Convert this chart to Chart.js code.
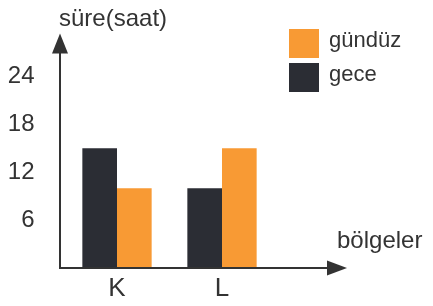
<!DOCTYPE html>
<html>
<head>
<meta charset="utf-8">
<script src="https://cdn.jsdelivr.net/npm/chart.js@4"></script>
<style>
  html, body { margin: 0; padding: 0; background: #fff; }
  #wrap { width: 433px; height: 306px; position: relative; }
</style>
</head>
<body>
<div id="wrap"><canvas id="chart"></canvas></div>
<script>
// Data
const regions = ["K", "L"];
const nightHours = [15, 10]; // gece
const dayHours = [10, 15]; // gündüz
const yTicks = [6, 12, 18, 24];
const yAxisTitle = "süre(saat)";
const xAxisTitle = "bölgeler";
const seriesNames = ["gece", "gündüz"];

const FONT = "'Liberation Sans', Arial, sans-serif";
const INK = "#333333";
const DARK = "#2b2d34";
const ORANGE = "#f89a34";

// Axis lines with arrow heads, the two axis titles and the legend box
const decorPlugin = {
  id: "decor",
  afterDatasetsDraw(chart) {
    const { ctx, chartArea, scales } = chart;
    const x0 = chartArea.left - 4.5;
    const y0 = scales.y.getPixelForValue(0);
    ctx.save();
    ctx.strokeStyle = INK;
    ctx.fillStyle = INK;
    ctx.lineWidth = 2;

    // y axis
    ctx.beginPath();
    ctx.moveTo(x0, y0 + 1);
    ctx.lineTo(x0, chartArea.top + 14);
    ctx.stroke();
    ctx.beginPath();
    ctx.moveTo(x0, chartArea.top - 3);
    ctx.lineTo(x0 - 8, chartArea.top + 17);
    ctx.lineTo(x0 + 8, chartArea.top + 17);
    ctx.closePath();
    ctx.fill();

    // x axis
    const xEnd = 347;
    ctx.beginPath();
    ctx.moveTo(x0 - 1, y0);
    ctx.lineTo(xEnd - 18, y0);
    ctx.stroke();
    ctx.beginPath();
    ctx.moveTo(xEnd, y0);
    ctx.lineTo(xEnd - 20, y0 - 7.5);
    ctx.lineTo(xEnd - 20, y0 + 7.5);
    ctx.closePath();
    ctx.fill();

    // axis titles
    ctx.font = "24px " + FONT;
    ctx.textBaseline = "alphabetic";
    ctx.textAlign = "left";
    ctx.fillText(yAxisTitle, 59, 26);
    ctx.fillText(xAxisTitle, 337, 248);

    // legend (gündüz first, then gece)
    const items = chart.data.datasets.slice().reverse();
    ctx.font = "22px " + FONT;
    items.forEach((ds, i) => {
      const top = 29 + i * 34;
      ctx.fillStyle = ds.backgroundColor;
      ctx.fillRect(289, top, 30, 29);
      ctx.fillStyle = INK;
      ctx.fillText(ds.label, 329, top + 18);
    });
    ctx.restore();
  },
};

new Chart(document.getElementById("chart"), {
  type: "bar",
  data: {
    labels: regions,
    datasets: [
      {
        label: seriesNames[0],
        data: nightHours,
        backgroundColor: DARK,
        borderWidth: 0,
      },
      {
        label: seriesNames[1],
        data: dayHours,
        backgroundColor: ORANGE,
        borderWidth: 0,
      },
    ],
  },
  options: {
    responsive: true,
    maintainAspectRatio: false,
    animation: false,
    layout: { padding: { top: 36, right: 158.5, bottom: 0, left: 0 } },
    datasets: { bar: { categoryPercentage: 0.66, barPercentage: 1 } },
    scales: {
      x: {
        grid: { display: false },
        border: { display: false },
        ticks: { color: INK, font: { family: FONT, size: 26 }, padding: -3 },
        afterFit: (s) => { s.height = 38; },
      },
      y: {
        min: 0,
        max: 29,
        grid: { display: false },
        border: { display: false },
        afterBuildTicks: (s) => { s.ticks = yTicks.map((v) => ({ value: v })); },
        ticks: { color: INK, font: { family: FONT, size: 24 }, padding: 22 },
        afterFit: (s) => { s.width = 64.5; },
      },
    },
    plugins: {
      legend: { display: false },
      tooltip: { enabled: false },
    },
  },
  plugins: [decorPlugin],
});
</script>
</body>
</html>
